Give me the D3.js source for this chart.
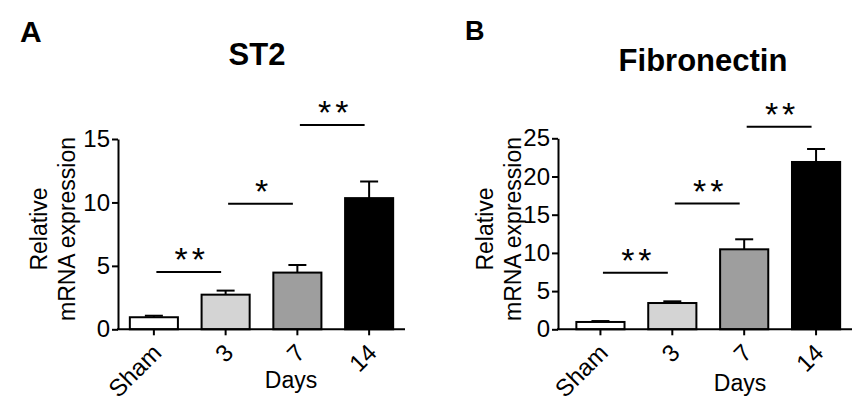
<!DOCTYPE html>
<html lang="en">
<head>
    <meta charset="UTF-8">
    <title>ST2 and Fibronectin mRNA</title>
    <script src="https://d3js.org/d3.v7.min.js"></script>
    <style>
        body { margin: 0; background: #fff; }
        svg text { font-family: "Liberation Sans", Arial, sans-serif; fill: #000; }
        .axis path, .axis line { stroke: #000; stroke-width: 2; }
        .axis text { font-size: 24px; }
        .bar { stroke: #000; stroke-width: 2; }
        .err { stroke: #000; stroke-width: 2; }
        .sig { stroke: #000; stroke-width: 2; }
        .star { font-size: 34px; letter-spacing: 4px; }
        .label { font-size: 23px; }
        .title { font-size: 31px; font-weight: bold; }
        .panel { font-weight: bold; }
    </style>
</head>
<body>
    <svg id="chart" width="861" height="412"></svg>

    <script>
        const categories = ["Sham", "3", "7", "14"];
        const barColors = ["#ffffff", "#d4d4d4", "#9e9e9e", "#000000"];

        // ST2
        const st2Means = [0.95, 2.73, 4.47, 10.34];
        const st2Errors = [0.12, 0.32, 0.6, 1.31];
        const st2Ticks = [0, 5, 10, 15];
        const st2Sig = [
            {from: 0, to: 1, y: 4.52, label: "**"},
            {from: 1, to: 2, y: 9.9, label: "*"},
            {from: 2, to: 3, y: 16.1, label: "**"}
        ];

        // Fibronectin
        const fnMeans = [0.96, 3.44, 10.47, 21.9];
        const fnErrors = [0.12, 0.22, 1.31, 1.7];
        const fnTicks = [0, 5, 10, 15, 20, 25];
        const fnSig = [
            {from: 0, to: 1, y: 7.4, label: "**"},
            {from: 1, to: 2, y: 16.45, label: "**"},
            {from: 2, to: 3, y: 26.5, label: "**"}
        ];

        const svg = d3.select("#chart");

        function drawPanel(p) {
            const g = svg.append("g");

            const y = d3.scaleLinear()
                .domain([0, p.ticks[p.ticks.length - 1]])
                .range([329.3, p.yTop]);

            const x = d3.scaleBand()
                .domain(categories)
                .range([p.axisX + p.gapL, p.axisEnd])
                .paddingInner(0.33)
                .paddingOuter(0.165);

            const cx = i => x(categories[i]) + x.bandwidth() / 2;

            // bars
            g.selectAll(".bar")
                .data(p.means)
                .enter()
                .append("rect")
                .attr("class", "bar")
                .attr("x", (d, i) => x(categories[i]))
                .attr("y", d => y(d))
                .attr("width", x.bandwidth())
                .attr("height", d => y(0) - y(d))
                .attr("fill", (d, i) => barColors[i]);

            // error bars (upper half only)
            const eb = g.selectAll(".errg")
                .data(p.means)
                .enter()
                .append("g");
            eb.append("line")
                .attr("class", "err")
                .attr("x1", (d, i) => cx(i))
                .attr("x2", (d, i) => cx(i))
                .attr("y1", d => y(d))
                .attr("y2", (d, i) => y(d + p.errors[i]));
            eb.append("line")
                .attr("class", "err")
                .attr("x1", (d, i) => cx(i) - 9)
                .attr("x2", (d, i) => cx(i) + 9)
                .attr("y1", (d, i) => y(d + p.errors[i]))
                .attr("y2", (d, i) => y(d + p.errors[i]));

            // y axis
            g.append("g")
                .attr("class", "axis")
                .attr("transform", `translate(${p.axisX},0)`)
                .call(d3.axisLeft(y).tickValues(p.ticks).tickSize(6).tickPadding(2).tickSizeOuter(0))
                .attr("font-family", null);

            // x axis
            const xa = g.append("g")
                .attr("class", "axis")
                .attr("transform", `translate(0,${y(0)})`)
                .call(d3.axisBottom(x).tickSize(6).tickSizeOuter(0))
                .attr("font-family", null);
            xa.select(".domain").remove();
            xa.append("line")
                .attr("x1", p.axisX - 1)
                .attr("x2", p.axisEnd)
                .attr("stroke", "#000")
                .attr("stroke-width", 2);
            xa.selectAll(".tick text")
                .attr("text-anchor", "end")
                .attr("dy", null)
                .attr("y", 0)
                .attr("transform", "translate(9,25) rotate(-45)");

            // significance
            p.sig.forEach(s => {
                const x1 = cx(s.from) + 2.5;
                const x2 = cx(s.to) - 4.5;
                g.append("line")
                    .attr("class", "sig")
                    .attr("x1", x1).attr("x2", x2)
                    .attr("y1", y(s.y)).attr("y2", y(s.y));
                g.append("text")
                    .attr("class", "star")
                    .attr("x", (x1 + x2) / 2 + 3)
                    .attr("y", y(s.y) - 1)
                    .attr("text-anchor", "middle")
                    .text(s.label);
            });

            // axis titles
            g.append("text")
                .attr("class", "label")
                .attr("transform", `translate(${p.relX},229) rotate(-90)`)
                .attr("text-anchor", "middle")
                .text("Relative");
            g.append("text")
                .attr("class", "label")
                .attr("transform", `translate(${p.relX + 28},229) rotate(-90)`)
                .attr("text-anchor", "middle")
                .text("mRNA expression");
            g.append("text")
                .attr("class", "label")
                .attr("x", p.daysX)
                .attr("y", p.daysY)
                .attr("text-anchor", "middle")
                .text("Days");

            g.append("text")
                .attr("class", "title")
                .attr("x", p.titleX)
                .attr("y", p.titleY)
                .attr("text-anchor", "middle")
                .text(p.title);
            g.append("text")
                .attr("class", "panel")
                .attr("x", p.letterX)
                .attr("y", p.letterY)
                .attr("font-size", p.letterSize)
                .text(p.letter);
        }

        drawPanel({
            means: st2Means, errors: st2Errors, ticks: st2Ticks, sig: st2Sig,
            yTop: 139, axisX: 118, gapL: 0, axisEnd: 405,
            relX: 47, daysX: 291, daysY: 388,
            title: "ST2", titleX: 257, titleY: 65,
            letter: "A", letterX: 20, letterY: 42, letterSize: 30
        });

        drawPanel({
            means: fnMeans, errors: fnErrors, ticks: fnTicks, sig: fnSig,
            yTop: 138.3, axisX: 558, gapL: 6.5, axisEnd: 852,
            relX: 493, daysX: 740, daysY: 391,
            title: "Fibronectin", titleX: 703, titleY: 71,
            letter: "B", letterX: 465, letterY: 40, letterSize: 27
        });
    </script>
</body>
</html>
